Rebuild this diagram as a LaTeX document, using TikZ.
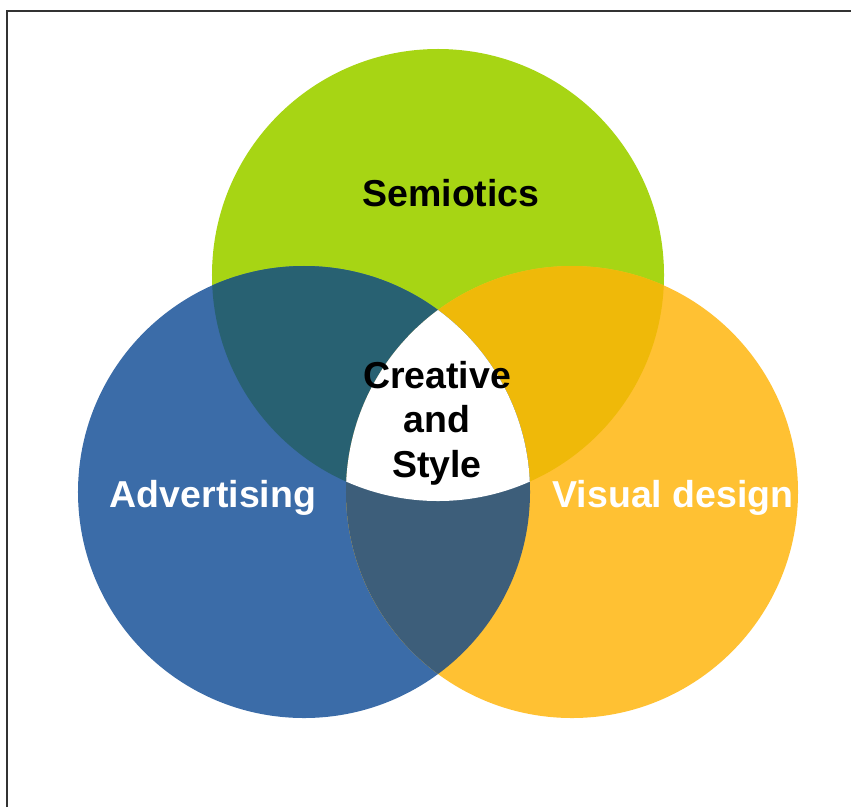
\documentclass[tikz,border=0pt]{standalone}
\usepackage{fontspec}
\setmainfont{Liberation Sans}
\definecolor{semgreen}{HTML}{A7D514}
\definecolor{advblue}{HTML}{3B6CA8}
\definecolor{visorange}{HTML}{FFC133}
\definecolor{semadv}{HTML}{286172}
\definecolor{semvis}{HTML}{EFB909}
\definecolor{advvis}{HTML}{3D5E7A}
\definecolor{framegray}{HTML}{333333}
\begin{document}
\begin{tikzpicture}[x=0.03cm,y=-0.03cm,
    every node/.style={font=\bfseries\fontsize{32}{38}\selectfont,inner sep=0pt},
    ring/.style={radius=6.78cm}]
    \useasboundingbox (0,0) rectangle (851,807);
    \draw[line width=0.06cm,framegray] (7,807) -- (7,11) -- (851,11);
    \coordinate (sem) at (438,275);
    \coordinate (adv) at (304,492);
    \coordinate (vis) at (572,492);
    % the three circles
    \fill[semgreen] (sem) circle[ring];
    \fill[advblue] (adv) circle[ring];
    \fill[visorange] (vis) circle[ring];
    % pairwise overlaps
    \begin{scope}
        \clip (sem) circle[ring];
        \fill[semadv] (adv) circle[ring];
        \fill[semvis] (vis) circle[ring];
    \end{scope}
    \begin{scope}
        \clip (adv) circle[ring];
        \fill[advvis] (vis) circle[ring];
        \clip (vis) circle[ring];
        \fill[white] (sem) circle[ring];
    \end{scope}
    % labels
    \node (semiotics) at (451,193) {Semiotics};
    \node[white] (advertising) at (213,498) {Advertising};
    \node[white] (visual) at (673,498) {Visual design};
    \node[align=center] (creative) at (437,423) {Creative\\and\\Style};
\end{tikzpicture}
\end{document}
